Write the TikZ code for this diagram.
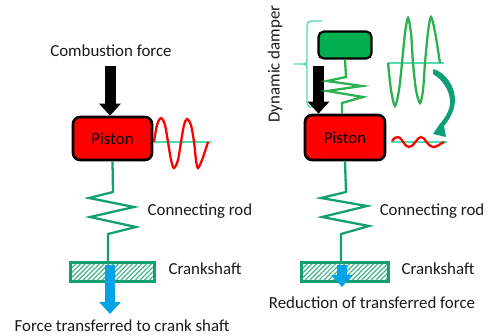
\documentclass[tikz,border=0pt]{standalone}
\usepackage{fontspec}
\setmainfont{Carlito}
\usepackage{tikz}
\usetikzlibrary{arrows.meta,patterns.meta}
\definecolor{rodgreen}{HTML}{13A06E}
\definecolor{axisgreen}{HTML}{4FDDB0}
\definecolor{wavegreen}{HTML}{2DB04F}
\definecolor{boxgreen}{HTML}{00B050}
\definecolor{bendgreen}{HTML}{0E9E78}
\definecolor{forceblue}{HTML}{00A4E4}
\definecolor{textdark}{HTML}{1A1A1A}
\tikzset{
  lbl/.style={text=textdark,inner sep=0pt,font=\fontsize{9.6}{11}\selectfont},
  pistonbox/.style={draw=black,line width=1.5pt,fill=red,rounded corners=4pt,minimum width=1.6cm,minimum height=0.9cm,inner sep=0pt,font=\fontsize{9.6}{11}\selectfont},
  crankbox/.style={draw=rodgreen,line width=1.2pt,minimum height=0.4cm,inner sep=0pt,pattern={Lines[angle=45,distance=1.9pt,line width=0.7pt]},pattern color=rodgreen!80},
  rod/.style={draw=rodgreen,line width=1.3pt},
  axisline/.style={draw=axisgreen,line width=0.8pt},
  waveline/.style={line width=1.3pt},
  fatblack/.style={draw=black,line width=0.22cm,-{Triangle[width=0.42cm,length=0.24cm]}},
  fatblue/.style={draw=forceblue,line width=0.2cm,-{Triangle[width=0.42cm,length=0.24cm]}},
}
\begin{document}
\begin{tikzpicture}[x=0.02cm,y=-0.02cm]
	\useasboundingbox (0,0) rectangle (489,335);
	% left side
	\node[lbl] (combustion) at (111,51){Combustion force};
	\node[pistonbox,minimum width=1.58cm,minimum height=0.86cm] (pistonl) at (112.5,138.5){Piston};
	\node[crankbox,minimum width=1.68cm,minimum height=0.38cm] (crankl) at (112.5,272){};
	\node[lbl] (rodtextl) at (200,211){Connecting rod};
	\node[lbl] (cranktextl) at (205,269){Crankshaft};
	\node[lbl] (transferl) at (122,326){Force transferred to crank shaft};
	\coordinate (pushl) at (110,66);
	\coordinate (bendl) at (108,234);
	\coordinate (flowl) at (110,265);
	\coordinate (tipl) at (110,314);
	\draw[fatblack] (pushl) -- (pushl |- pistonl.north);
	\draw[axisline] (pistonl.east |- 0,142) -- (211,142);
	\draw[red,waveline] plot[smooth] coordinates {(154,142)(157,125)(161,118)(165,125)(168,142)(171,160)(174,168)(178,160)(181,142)(184,125)(187,119)(191,125)(194,142)(196,160)(198,168)(202,160)(208,142)};
	\draw[rod] (pistonl.south) -- (113,192) -- (89,198) -- (134,207) -- (90,217) -- (136,227) -- (bendl) -- (bendl |- crankl.north);
	\draw[fatblue] (flowl) -- (tipl);
	% right side
	\node[lbl,rotate=90] (dampertext) at (275,64){Dynamic damper};
	\node[draw=black,line width=1.2pt,fill=boxgreen,rounded corners=3pt,minimum width=1.06cm,minimum height=0.54cm,inner sep=0pt] (damper) at (345,45){};
	\node[pistonbox,minimum width=1.6cm,minimum height=0.9cm] (pistonr) at (345,137.5){Piston};
	\node[crankbox,minimum width=1.74cm,minimum height=0.38cm] (crankr) at (345,272){};
	\node[lbl] (rodtextr) at (432,211){Connecting rod};
	\node[lbl] (cranktextr) at (438,269){Crankshaft};
	\node[lbl] (transferr) at (372,303){Reduction of transferred force};
	\coordinate (pushr) at (318.5,66);
	\coordinate (bendr) at (342,103);
	\coordinate (bendq) at (341,234);
	\coordinate (flowr) at (342,265);
	\coordinate (tipr) at (342,287);
	\draw[axisline] (322,21) -- (311,21) .. controls (308,21) and (307,23) .. (307,26) -- (307,60) .. controls (307,63) and (306,64) .. (303,64) -- (294,64);
	\draw[axisline] (303,64) .. controls (306,64) and (307,65) .. (307,68) -- (307,103) .. controls (307,106) and (309,107) .. (313,107);
	\draw[fatblack] (pushr) -- (pushr |- pistonr.north);
	\draw[wavegreen,waveline] (damper.south) -- (346,77) -- (327,81) -- (362,86) -- (327,91) -- (363,97) -- (bendr) -- (bendr |- pistonr.north);
	\draw[axisline] (388,63) -- (444,63);
	\draw[wavegreen,waveline] plot[smooth] coordinates {(388,63)(391,90)(395,106)(399,90)(402,63)(405,33)(408,18)(411,33)(413,63)(416,90)(420,103)(423,90)(425,63)(428,32)(431,17)(435,32)(440,63)};
	\fill[bendgreen] (433,69) .. controls (446,72) and (456,88) .. (455,102) .. controls (454,112) and (449,120) .. (444,126) -- (446,137) -- (433,134) -- (439,125) .. controls (446,117) and (451,108) .. (450,100) .. controls (449,90) and (443,80) .. (433,74) -- cycle;
	\draw[axisline] (391,142) -- (447,142);
	\draw[red,waveline] (392,141) .. controls (394,138) and (396,137) .. (398,137) .. controls (402,137) and (404,147) .. (409,147) .. controls (414,147) and (417,137) .. (421,137) .. controls (425,137) and (428,147) .. (433,147) .. controls (437,147) and (440,144) .. (444,142);
	\draw[rod] (pistonr.south) -- (346,192) -- (321,198) -- (367,206) -- (322,217) -- (369,226) -- (bendq) -- (bendq |- crankr.north);
	\draw[fatblue] (flowr) -- (tipr);
\end{tikzpicture}
\end{document}
